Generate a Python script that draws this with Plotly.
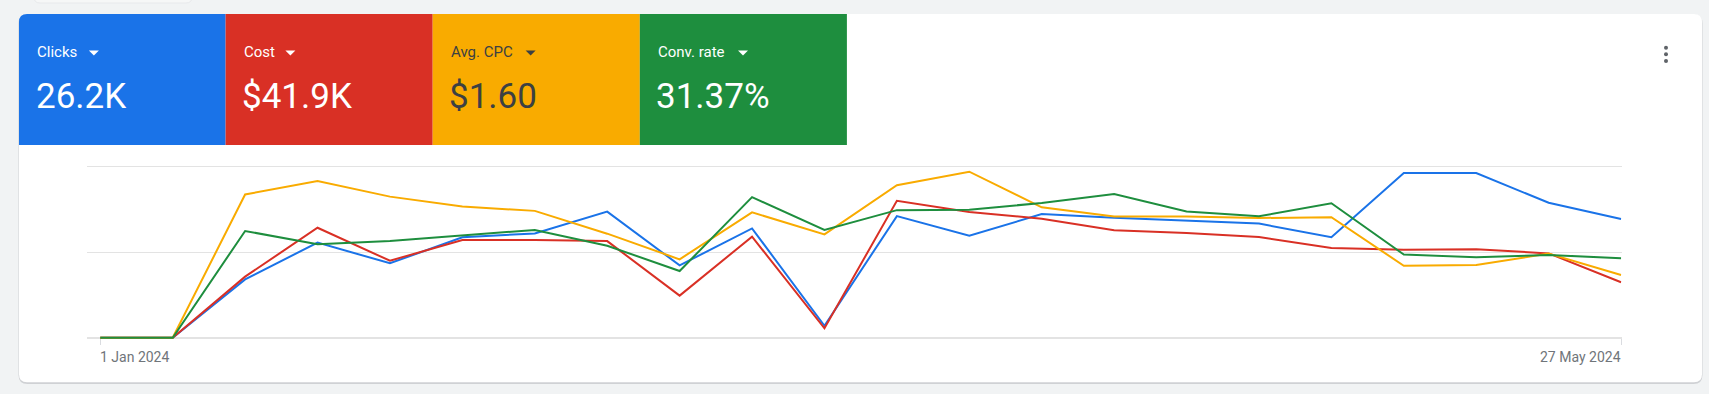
import plotly.graph_objects as go

# ---------------- data ----------------
weeks = ["2024-01-01", "2024-01-08", "2024-01-15", "2024-01-22", "2024-01-29",
         "2024-02-05", "2024-02-12", "2024-02-19", "2024-02-26", "2024-03-04",
         "2024-03-11", "2024-03-18", "2024-03-25", "2024-04-01", "2024-04-08",
         "2024-04-15", "2024-04-22", "2024-04-29", "2024-05-06", "2024-05-13",
         "2024-05-20", "2024-05-27"]
clicks = [0, 0, 716, 1168, 914, 1233, 1281, 1548, 888, 1342, 147, 1493, 1252,
          1518, 1474, 1436, 1401, 1233, 2022, 2022, 1657, 1457]
cost = [0, 0, 1428, 2572, 1800, 2284, 2284, 2260, 984, 2364, 220, 3204, 2940,
        2784, 2512, 2448, 2356, 2096, 2060, 2068, 1972, 1296]
avg_cpc = [0, 0, 2.01, 2.20, 1.98, 1.84, 1.78, 1.46, 1.10, 1.76, 1.45, 2.14, 2.33,
           1.83, 1.70, 1.70, 1.68, 1.69, 1.01, 1.02, 1.18, 0.88]
conv_rate = [0, 0, 31.2, 27.3, 28.3, 29.8, 31.5, 26.9, 19.5, 41.1, 31.5, 37.3,
             37.4, 39.4, 42.0, 36.9, 35.5, 39.3, 24.3, 23.5, 24.2, 23.2]
axis_max = [2100, 4000, 2.4, 50]           # scale of each hidden y axis
tile_labels = ["Clicks", "Cost", "Avg. CPC", "Conv. rate"]
tile_values = ["26.2K", "$41.9K", "$1.60", "31.37%"]
date_labels = ["1 Jan 2024", "27 May 2024"]

# ---------------- style ----------------
W, H = 1709, 394
COLORS = ["#1a73e8", "#d93025", "#f9ab00", "#1e8e3e"]
TEXT_ON = ["#ffffff", "#ffffff", "#3c4043", "#ffffff"]
FONT = "Roboto"


def px(x):
    return x / W


def py(y):
    return 1 - y / H


def rounded_path(x0, y0, x1, y1, r_tl=0, r_tr=0, r_br=0, r_bl=0):
    p = f"M {px(x0 + r_tl)},{py(y0)} L {px(x1 - r_tr)},{py(y0)} "
    p += f"Q {px(x1)},{py(y0)} {px(x1)},{py(y0 + r_tr)} " if r_tr else ""
    p += f"L {px(x1)},{py(y1 - r_br)} "
    p += f"Q {px(x1)},{py(y1)} {px(x1 - r_br)},{py(y1)} " if r_br else ""
    p += f"L {px(x0 + r_bl)},{py(y1)} "
    p += f"Q {px(x0)},{py(y1)} {px(x0)},{py(y1 - r_bl)} " if r_bl else ""
    p += f"L {px(x0)},{py(y0 + r_tl)} "
    p += f"Q {px(x0)},{py(y0)} {px(x0 + r_tl)},{py(y0)} " if r_tl else ""
    return p + "Z"


fig = go.Figure()

series = [clicks, cost, avg_cpc, conv_rate]
names = tile_labels
yaxes = ["y", "y2", "y3", "y4"]
for s, name, col, ya in zip(series, names, COLORS, yaxes):
    fig.add_trace(go.Scatter(x=weeks, y=s, name=name, mode="lines",
                             line=dict(color=col, width=2), yaxis=ya,
                             hoverinfo="skip"))

# geometry of plot
CARD_L, CARD_R, CARD_T, CARD_B = 19, 1702, 14, 382.3
TILE_B = 145
tile_x = [19, 225.6, 432.7, 639.8, 846.9]
PLOT_L, PLOT_R = 86.7, 1621.5
Y_TOP, Y_ZERO = 166.7, 337.7
Y_DOM_T, Y_DOM_B = 158.0, 346.0

shapes = []
# faint element peeking at the top
shapes.append(dict(type="path", xref="paper", yref="paper", layer="below",
                   path=rounded_path(34, -12, 192, 3, 6, 6, 6, 6),
                   fillcolor="#f6f7f7", line=dict(color="#e8e9eb", width=1)))
# card shadow and card
shapes.append(dict(type="path", xref="paper", yref="paper", layer="below",
                   path=rounded_path(CARD_L - 0.5, CARD_T + 0.5, CARD_R + 0.5, CARD_B + 1.6, 9, 9, 9, 9),
                   fillcolor="#cfd1d4", line=dict(width=0)))
shapes.append(dict(type="path", xref="paper", yref="paper", layer="below",
                   path=rounded_path(CARD_L, CARD_T, CARD_R, CARD_B, 8, 8, 8, 8),
                   fillcolor="#ffffff", line=dict(width=0)))
# metric tiles
for i, col in enumerate(COLORS):
    shapes.append(dict(type="path", xref="paper", yref="paper", layer="below",
                       path=rounded_path(tile_x[i], CARD_T, tile_x[i + 1], TILE_B,
                                         8 if i == 0 else 0, 0, 0, 0),
                       fillcolor=col, line=dict(width=0)))
# dropdown triangles
tri_x = [88.9, 285.4, 525.6, 738.0]
for i, tx in enumerate(tri_x):
    y0 = 50.6
    shapes.append(dict(type="path", xref="paper", yref="paper", layer="above",
                       path=f"M {px(tx)},{py(y0)} L {px(tx + 10)},{py(y0)} L {px(tx + 5)},{py(y0 + 5)} Z",
                       fillcolor=TEXT_ON[i], line=dict(width=0)))
# kebab menu
for dy in [47.7, 54.3, 61.0]:
    shapes.append(dict(type="circle", xref="paper", yref="paper", layer="above",
                       x0=px(1664), x1=px(1668), y0=py(dy + 2), y1=py(dy - 2),
                       fillcolor="#5f6368", line=dict(width=0)))

annotations = []
for i in range(4):
    annotations.append(dict(xref="paper", yref="paper", x=px(tile_x[i] + 16), y=py(51.5),
                            xanchor="left", yanchor="middle", showarrow=False,
                            text=tile_labels[i],
                            font=dict(family=FONT, size=15, color=TEXT_ON[i])))
    annotations.append(dict(xref="paper", yref="paper", x=px(tile_x[i] + 14.5), y=py(96),
                            xanchor="left", yanchor="middle", showarrow=False,
                            text=tile_values[i],
                            font=dict(family=FONT, size=35, color=TEXT_ON[i])))
annotations.append(dict(xref="x", yref="paper", x=weeks[0], y=py(356.5),
                        xanchor="left", yanchor="middle", showarrow=False,
                        text=date_labels[0], xshift=-2,
                        font=dict(family=FONT, size=14, color="#70757a")))
annotations.append(dict(xref="x", yref="paper", x=weeks[-1], y=py(356.5),
                        xanchor="right", yanchor="middle", showarrow=False,
                        text=date_labels[-1], xshift=2,
                        font=dict(family=FONT, size=14, color="#70757a")))

ydom = [py(Y_DOM_B), py(Y_DOM_T)]
ext_lo = (Y_DOM_B - Y_ZERO) / (Y_ZERO - Y_TOP)
ext_hi = (Y_TOP - Y_DOM_T) / (Y_ZERO - Y_TOP)


def yax(i, **kw):
    R = axis_max[i]
    d = dict(domain=ydom, range=[-R * ext_lo, R * (1 + ext_hi)], showticklabels=False,
             showgrid=False, zeroline=False, showline=False, fixedrange=True)
    d.update(kw)
    return d


fig.update_layout(
    width=W, height=H,
    margin=dict(l=0, r=0, t=0, b=0),
    paper_bgcolor="#f1f3f4",
    plot_bgcolor="rgba(0,0,0,0)",
    showlegend=False,
    shapes=shapes,
    annotations=annotations,
    xaxis=dict(type="date", domain=[px(PLOT_L), px(PLOT_R)],
               range=["2023-12-30 16:30", "2024-05-27 01:00"],
               anchor="free", position=py(Y_ZERO),
               showgrid=False, zeroline=False, showline=False,
               ticks="outside", ticklen=6, tickwidth=1, tickcolor="#dadce0",
               tickvals=[weeks[0], weeks[-1]], showticklabels=False,
               fixedrange=True),
    yaxis=yax(0, showgrid=True, gridcolor="#e3e3e3", gridwidth=1.3,
              tickvals=[0, axis_max[0] / 2, axis_max[0]],
              zeroline=True, zerolinecolor="#e3e3e3", zerolinewidth=2),
    yaxis2=yax(1, overlaying="y"),
    yaxis3=yax(2, overlaying="y"),
    yaxis4=yax(3, overlaying="y"),
)

fig.write_html("out.html", config={"displayModeBar": False},
               post_script="document.body.style.margin='0';document.body.style.overflow='hidden';")
